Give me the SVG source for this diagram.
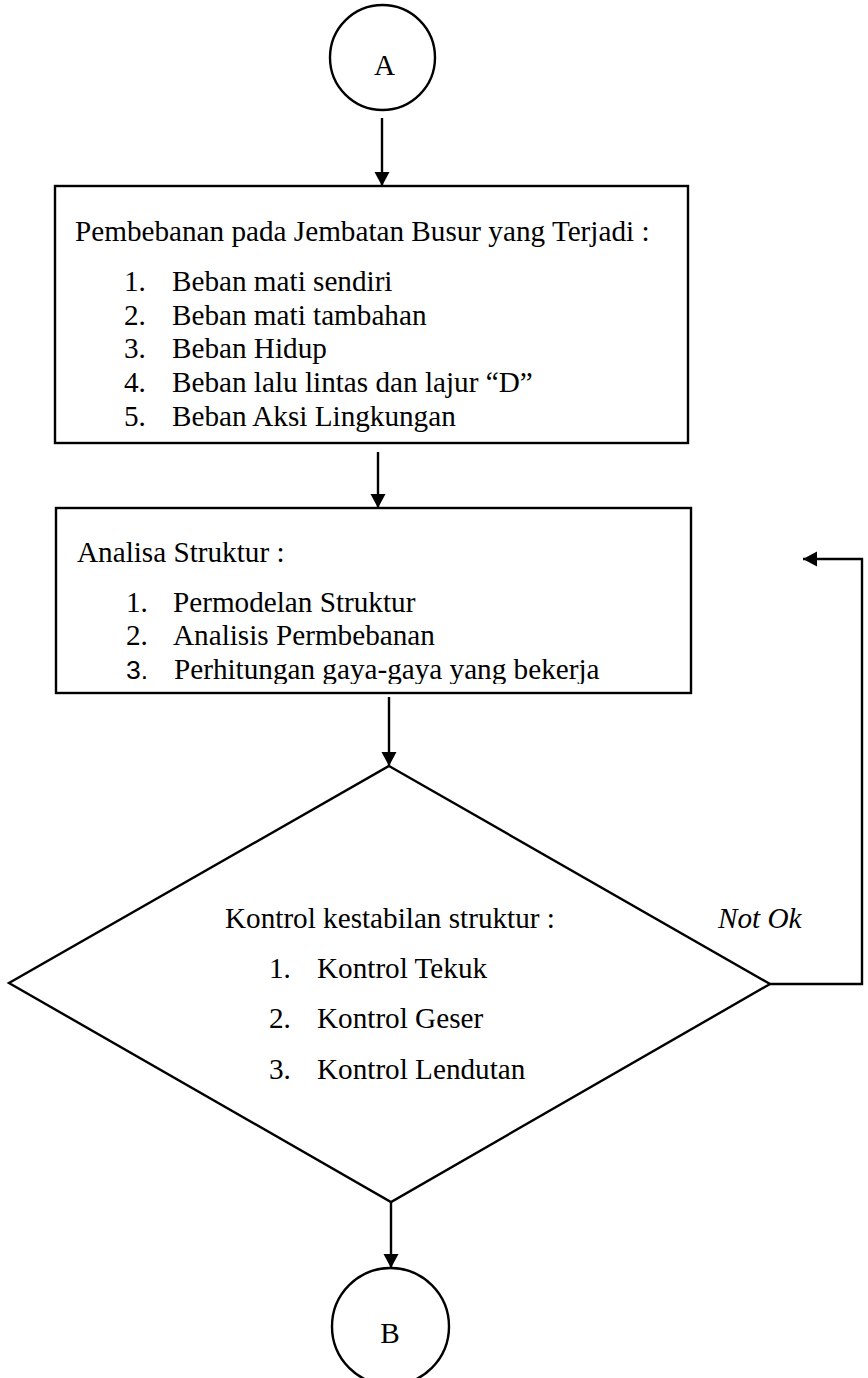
<svg xmlns="http://www.w3.org/2000/svg" width="868" height="1378" viewBox="0 0 868 1378">
  <style>
    .shape { fill: #fff; stroke: #000; stroke-width: 2.4; }
    .conn { fill: none; stroke: #000; stroke-width: 2.4; }
    .t { font-family: "Liberation Serif", "Times New Roman", serif; font-size: 29.2px; fill: #000; }
    .it { font-style: italic; }
    .sans { font-family: "Liberation Sans", Arial, sans-serif; font-size: 26.5px; }
  </style>
  <defs>
    <marker id="arrow" markerUnits="userSpaceOnUse" markerWidth="15" markerHeight="16" refX="14" refY="8" orient="auto">
      <path d="M0,0.5 L14,8 L0,15.5 z" fill="#000"/>
    </marker>
    <clipPath id="clipBox2">
      <rect x="56" y="508" width="635" height="176"/>
    </clipPath>
  </defs>
  <rect width="868" height="1378" fill="#fff"/>

  <g id="connectors">
    <path class="conn" d="M382,118 V186" marker-end="url(#arrow)"/>
    <path class="conn" d="M378,452 V508" marker-end="url(#arrow)"/>
    <path class="conn" d="M389,697 V766" marker-end="url(#arrow)"/>
    <path class="conn" d="M391,1202 V1268" marker-end="url(#arrow)"/>
    <path class="conn" d="M770,984 H862 V559 H803" marker-end="url(#arrow)"/>
    <text class="t it" x="718" y="928">Not Ok</text>
  </g>

  <g id="nodeA">
    <circle class="shape" cx="382.5" cy="57.5" r="52.5"/>
    <text class="t" x="384.5" y="75" text-anchor="middle">A</text>
  </g>

  <g id="box1">
    <rect class="shape" x="55" y="186" width="633" height="257"/>
    <text class="t" x="75" y="241">Pembebanan pada Jembatan Busur yang Terjadi :</text>
    <text class="t" x="124" y="291">1.</text><text class="t" x="172" y="291">Beban mati sendiri</text>
    <text class="t" x="124" y="324.5">2.</text><text class="t" x="172" y="324.5">Beban mati tambahan</text>
    <text class="t" x="124" y="358">3.</text><text class="t" x="172" y="358">Beban Hidup</text>
    <text class="t" x="124" y="392">4.</text><text class="t" x="172" y="392">Beban lalu lintas dan lajur “D”</text>
    <text class="t" x="124" y="426">5.</text><text class="t" x="172" y="426">Beban Aksi Lingkungan</text>
  </g>

  <g id="box2">
    <rect class="shape" x="56" y="508" width="635" height="185"/>
    <text class="t" x="77" y="562">Analisa Struktur :</text>
    <text class="t" x="126" y="612">1.</text><text class="t" x="173" y="612">Permodelan Struktur</text>
    <text class="t" x="126" y="644.5">2.</text><text class="t" x="173" y="644.5">Analisis Permbebanan</text>
    <g clip-path="url(#clipBox2)">
      <text class="t sans" x="126" y="679">3.</text><text class="t" x="174" y="679">Perhitungan gaya-gaya yang bekerja</text>
    </g>
  </g>

  <g id="decision">
    <polygon class="shape" points="389,766 770,984 391,1202 9,983"/>
    <text class="t" x="225" y="928">Kontrol kestabilan struktur :</text>
    <text class="t" x="269" y="978">1.</text><text class="t" x="317" y="978">Kontrol Tekuk</text>
    <text class="t" x="269" y="1028">2.</text><text class="t" x="317" y="1028">Kontrol Geser</text>
    <text class="t" x="269" y="1079">3.</text><text class="t" x="317" y="1079">Kontrol Lendutan</text>
  </g>

  <g id="nodeB">
    <circle class="shape" cx="390.5" cy="1326.5" r="58.5"/>
    <text class="t" x="390" y="1343" text-anchor="middle">B</text>
  </g>
</svg>
